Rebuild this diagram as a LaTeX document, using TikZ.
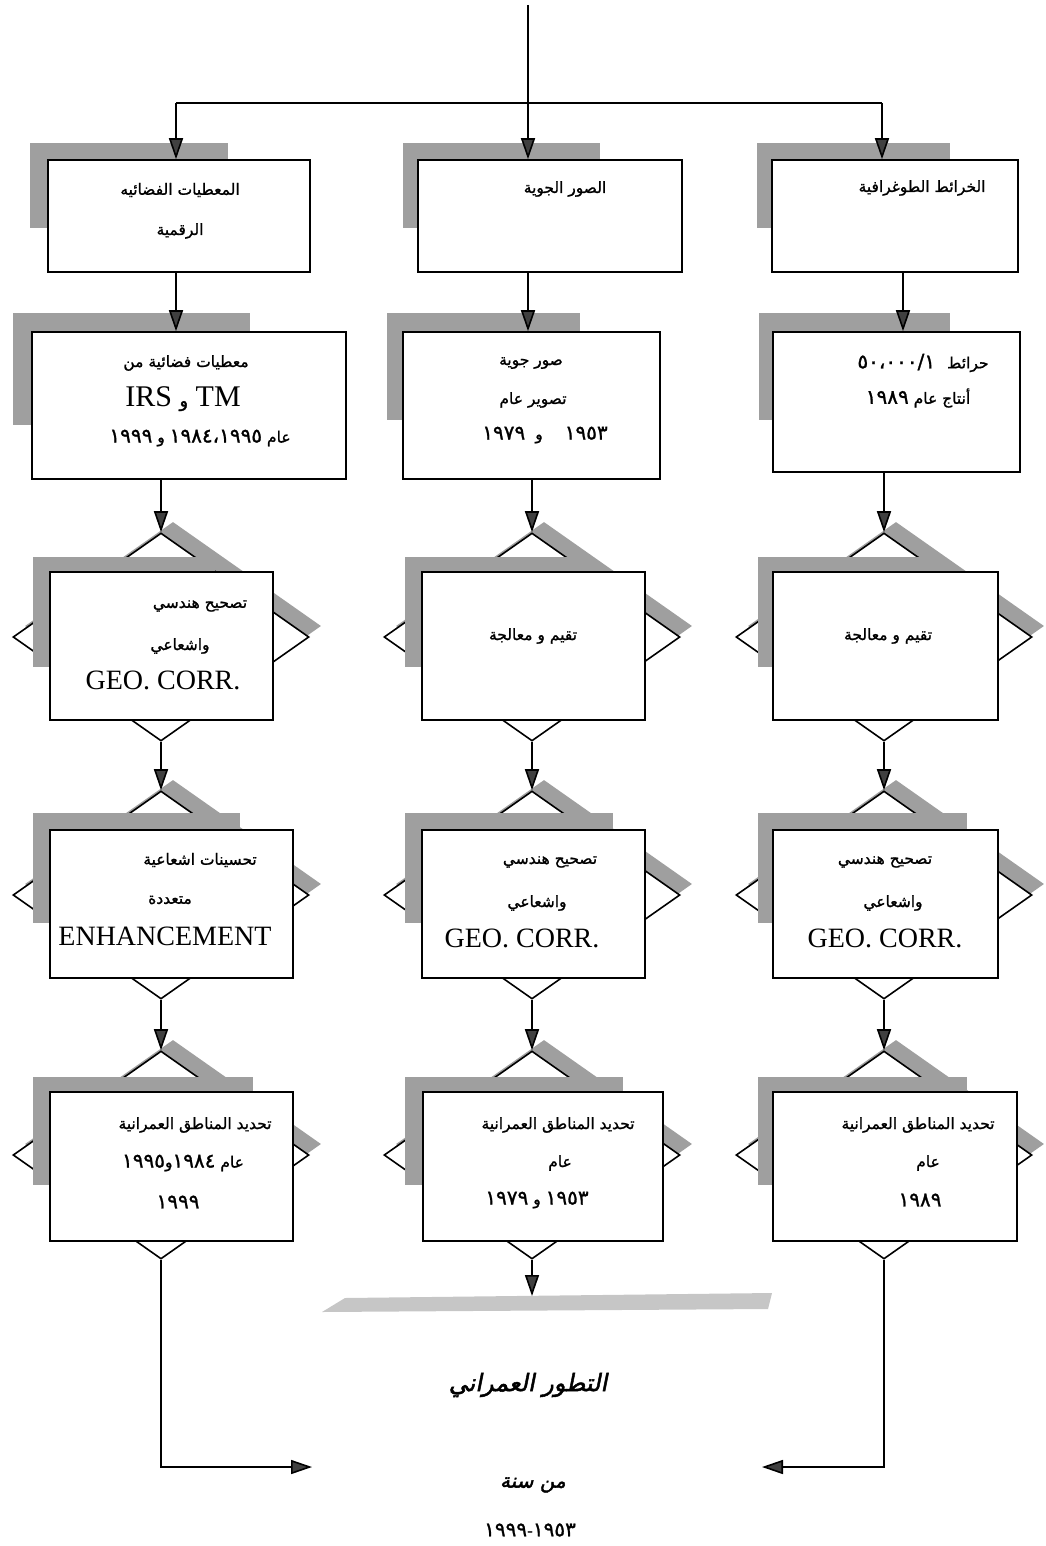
\documentclass[tikz,border=0pt]{standalone}
\usepackage{fontspec}
\setmainfont{Liberation Serif}
\newfontfamily\arabicfont[Script=Arabic,FakeBold=1.2]{DejaVu Sans}
\newfontfamily\arabictitle[Script=Arabic,FakeSlant=0.2,FakeBold=2]{DejaVu Sans}
\TeXXeTstate=1
\usetikzlibrary{shapes.geometric,arrows.meta,calc}

\newcommand{\ar}[1]{\beginR #1\endR}
\newcommand{\nm}[1]{\beginL{\fontsize{20}{22}\selectfont #1}\endL{}}

\tikzset{
  card/.style={draw, line width=1.6pt, fill=white, inner sep=0pt},
  choice/.style={diamond, draw, line width=1.6pt, fill=white, inner sep=0pt,
    minimum width=296pt, minimum height=208pt},
  choiceshadow/.style={diamond, fill=gray!75, inner sep=0pt,
    minimum width=296pt, minimum height=208pt},
  shadowfill/.style={fill=gray!75},
  artext/.style={inner sep=0pt, font=\arabicfont\fontsize{15.5}{18}\selectfont},
  latext/.style={inner sep=0pt, font=\fontsize{28}{30}\selectfont},
  flow/.style={line width=1.6pt},
  arr/.style={line width=1.6pt, -{Triangle[length=21pt,width=14pt,fill=black!75]}},
}

\begin{document}
\begin{tikzpicture}[x=1pt,y=-1pt]
    \useasboundingbox (0,0) rectangle (1045,1546);

    \coordinate (top) at (528,5);
    \coordinate (split) at (528,103);
    \coordinate (jL) at (176,103);
    \coordinate (jR) at (882,103);

    % sources
    \fill[shadowfill] (30,143) rectangle (228,228);
    \fill[shadowfill] (403,143) rectangle (600,228);
    \fill[shadowfill] (757,143) rectangle (950,228);
    \node[card, minimum width=262pt, minimum height=112pt] (b1L) at (179,216) {};
    \node[card, minimum width=264pt, minimum height=112pt] (b1M) at (550,216) {};
    \node[card, minimum width=246pt, minimum height=112pt] (b1R) at (895,216) {};

    % data
    \fill[shadowfill] (13,313) rectangle (250,425);
    \fill[shadowfill] (387,313) rectangle (580,420);
    \fill[shadowfill] (759,313) rectangle (950,420);
    \node[card, minimum width=314pt, minimum height=147pt] (b2L) at (189,405.5) {};
    \node[card, minimum width=257pt, minimum height=147pt] (b2M) at (531.5,405.5) {};
    \node[card, minimum width=247pt, minimum height=140pt] (b2R) at (896.5,402) {};

    % processing steps
    \foreach \r/\y in {3/637, 4/895, 5/1155} {
        \foreach \c/\x in {L/161, M/532, R/884} {
            \node[choiceshadow] (s\r\c) at (\x+12,\y-11) {};
            \node[choice] (d\r\c) at (\x,\y) {};
        }
    }

    \fill[shadowfill] (33,557) rectangle (215,667);
    \fill[shadowfill] (405,557) rectangle (590,667);
    \fill[shadowfill] (758,557) rectangle (945,667);
    \node[card, minimum width=223pt, minimum height=148pt] (b3L) at (161.5,646) {};
    \node[card, minimum width=223pt, minimum height=148pt] (b3M) at (533.5,646) {};
    \node[card, minimum width=225pt, minimum height=148pt] (b3R) at (885.5,646) {};

    \fill[shadowfill] (33,813) rectangle (240,923);
    \fill[shadowfill] (405,813) rectangle (613,923);
    \fill[shadowfill] (758,813) rectangle (967,923);
    \node[card, minimum width=243pt, minimum height=148pt] (b4L) at (171.5,904) {};
    \node[card, minimum width=223pt, minimum height=148pt] (b4M) at (533.5,904) {};
    \node[card, minimum width=225pt, minimum height=148pt] (b4R) at (885.5,904) {};

    \fill[shadowfill] (33,1077) rectangle (253,1185);
    \fill[shadowfill] (405,1077) rectangle (623,1185);
    \fill[shadowfill] (758,1077) rectangle (967,1185);
    \node[card, minimum width=243pt, minimum height=149pt] (b5L) at (171.5,1166.5) {};
    \node[card, minimum width=240pt, minimum height=149pt] (b5M) at (543,1166.5) {};
    \node[card, minimum width=244pt, minimum height=149pt] (b5R) at (895,1166.5) {};

    % texts
    \node[artext] (t1La) at (180,190) {\ar{المعطيات الفضائيه}};
    \node[artext] (t1Lb) at (180,231) {\ar{الرقمية}};
    \node[artext] (t1M) at (565,189) {\ar{الصور الجوية}};
    \node[artext] (t1R) at (922,188) {\ar{الخرائط الطوغرافية}};

    \node[artext] (t2La) at (186,363) {\ar{معطيات فضائية من}};
    \node[latext, font=\fontsize{30}{32}\selectfont] (t2Lb) at (183,399) {IRS {\arabicfont\fontsize{18}{20}\selectfont و} TM};
    \node[artext] (t2Lc) at (200,438) {\ar{عام \nm{١٩٨٤،١٩٩٥} و \nm{١٩٩٩}}};
    \node[artext] (t2Ma) at (531,363) {\ar{صور جوية}};
    \node[artext] (t2Mb) at (533,400) {\ar{تصوير عام}};
    \node[artext] (t2Mc) at (545,435) {\ar{\nm{١٩٥٣}\hspace{22pt}و\hspace{10pt}\nm{١٩٧٩}}};
    \node[artext] (t2Ra) at (923,363) {\ar{حرائط\hspace{12pt}\nm{٥٠،٠٠٠/١}}};
    \node[artext] (t2Rb) at (918,398) {\ar{أنتاج عام \nm{١٩٨٩}}};

    \node[artext] (t3La) at (200,606) {\ar{تصحيح هندسي}};
    \node[artext] (t3Lb) at (180,646) {\ar{واشعاعي}};
    \node[latext] (t3Lc) at (163,680) {GEO. CORR.};
    \node[artext] (t3M) at (533,636) {\ar{تقيم و معالجة}};
    \node[artext] (t3R) at (888,636) {\ar{تقيم و معالجة}};

    \node[artext] (t4La) at (200,860) {\ar{تحسينات اشعاعية}};
    \node[artext] (t4Lb) at (170,900) {\ar{متعددة}};
    \node[latext] (t4Lc) at (165,936) {ENHANCEMENT};
    \node[artext] (t4Ma) at (550,862) {\ar{تصحيح هندسي}};
    \node[artext] (t4Mb) at (537,903) {\ar{واشعاعي}};
    \node[latext] (t4Mc) at (522,938) {GEO. CORR.};
    \node[artext] (t4Ra) at (885,862) {\ar{تصحيح هندسي}};
    \node[artext] (t4Rb) at (893,903) {\ar{واشعاعي}};
    \node[latext] (t4Rc) at (885,938) {GEO. CORR.};

    \node[artext] (t5La) at (195,1125) {\ar{تحديد المناطق العمرانية}};
    \node[artext] (t5Lb) at (183,1163) {\ar{عام \nm{١٩٨٤}و\nm{١٩٩٥}}};
    \node[artext] (t5Lc) at (178,1202) {\ar{\nm{١٩٩٩}}};
    \node[artext] (t5Ma) at (558,1125) {\ar{تحديد المناطق العمرانية}};
    \node[artext] (t5Mb) at (560,1163) {\ar{عام}};
    \node[artext] (t5Mc) at (537,1200) {\ar{\nm{١٩٥٣} و \nm{١٩٧٩}}};
    \node[artext] (t5Ra) at (918,1125) {\ar{تحديد المناطق العمرانية}};
    \node[artext] (t5Rb) at (928,1163) {\ar{عام}};
    \node[artext] (t5Rc) at (920,1200) {\ar{\nm{١٩٨٩}}};

    % result
    \coordinate (outL) at (312,1467);
    \coordinate (outR) at (762,1467);
    \coordinate (barM) at (533,1296);
    \fill[gray!45] (322,1312) -- (345,1298) -- (772,1293) -- (768,1309) -- cycle;
    \node[inner sep=0pt, font=\arabictitle\fontsize{24}{28}\selectfont] (evo) at (528,1385) {\ar{التطور العمراني}};
    \node[inner sep=0pt, font=\arabictitle\fontsize{20}{24}\selectfont] (since) at (533,1485) {\ar{من سنة}};
    \node[artext, font=\arabicfont\fontsize{16}{18}\selectfont] (years) at (530,1530) {\ar{\nm{١٩٥٣}-\nm{١٩٩٩}}};

    % connectors
    \draw[flow] (top) -- (split);
    \draw[flow] (jL) -- (jR);
    \draw[arr] (jL) -- (jL |- b1L.north);
    \draw[arr] (split) -- (split |- b1M.north);
    \draw[arr] (jR) -- (jR |- b1R.north);
    \draw[arr] (jL |- b1L.south) -- (jL |- b2L.north);
    \draw[arr] (split |- b1M.south) -- (split |- b2M.north);
    \draw[arr] ([xshift=8pt]b1R.south) -- ([xshift=8pt]b1R.south |- b2R.north);
    \foreach \c in {L,M,R} {
        \draw[arr] (b2\c.south -| d3\c.north) -- (d3\c.north);
        \draw[arr] (d3\c.south) -- (d4\c.north);
        \draw[arr] (d4\c.south) -- (d5\c.north);
    }
    \draw[arr] (d5L.south) |- (outL);
    \draw[arr] (d5R.south) |- (outR);
    \draw[arr] (d5M.south) -- (d5M.south |- barM);
\end{tikzpicture}
\end{document}
